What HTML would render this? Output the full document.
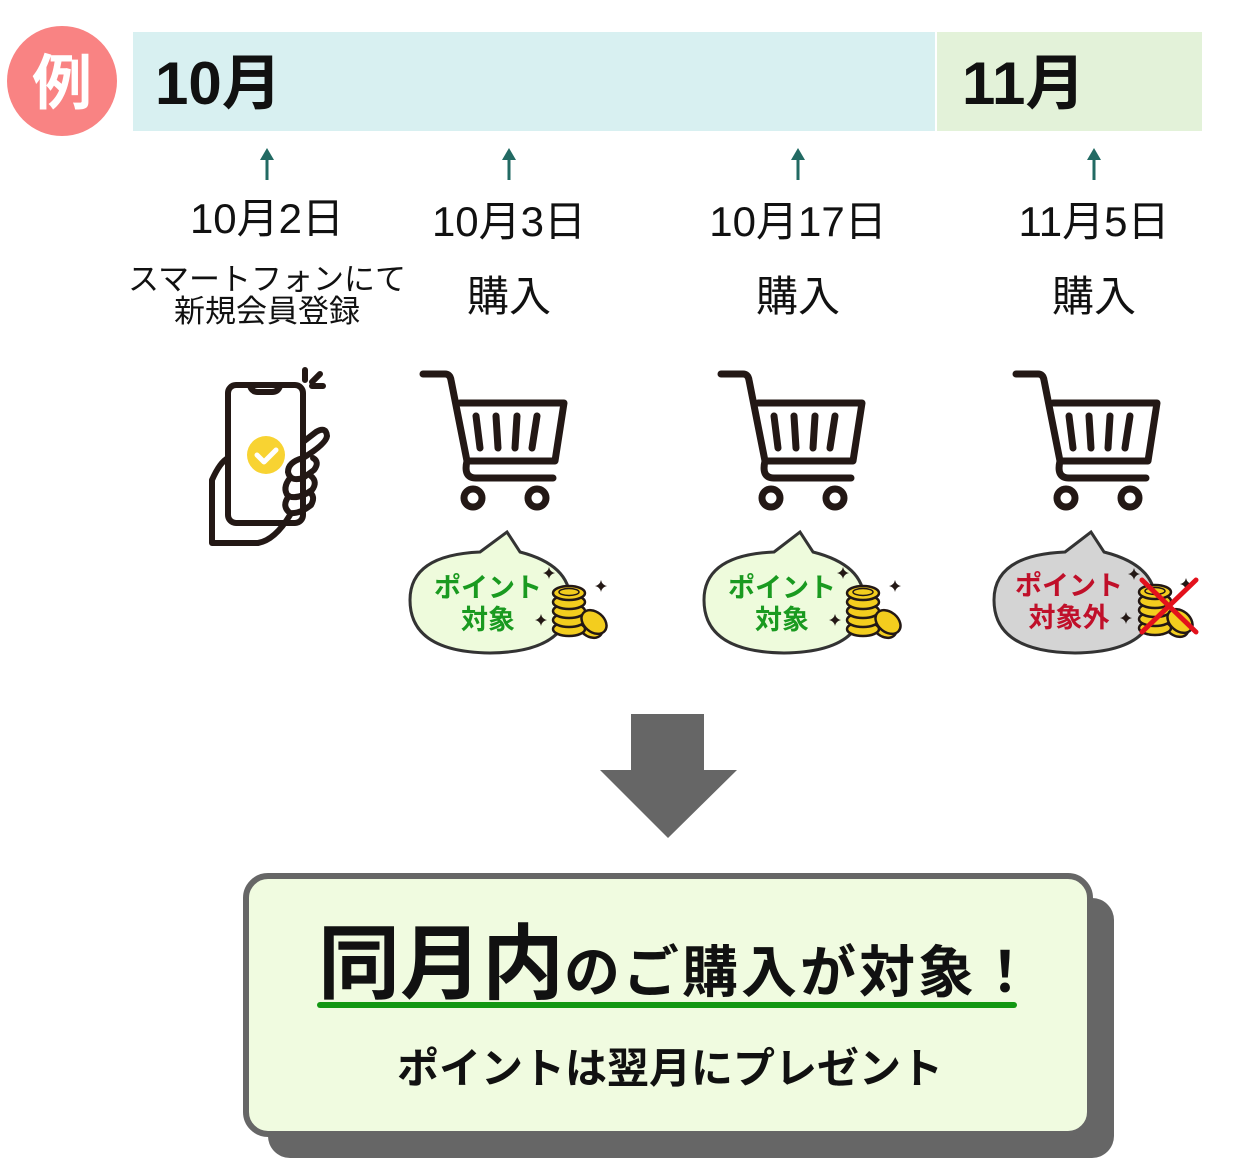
<!DOCTYPE html>
<html><head><meta charset="utf-8"><style>
html,body{margin:0;padding:0;background:#fff;}
svg{display:block;}
text{font-family:"Liberation Sans","Noto Sans CJK JP",sans-serif;}
</style></head><body>
<svg width="1239" height="1160" viewBox="0 0 1239 1160" xmlns="http://www.w3.org/2000/svg">
<defs>
<g id="cart" fill="none" stroke="#231815" stroke-width="7" stroke-linecap="round" stroke-linejoin="round">
  <path d="M0 3 H22 Q27 3 28 9 L44 90 Q40 107 53 107 H130"/>
  <path d="M37 32 H141 L132 90 H44"/>
  <path d="M53 45 L57 77 M73 45 L75 77 M94 45 L92 77 M114 45 L109 77"/>
  <circle cx="50" cy="127" r="9"/>
  <circle cx="114" cy="127" r="9"/>
</g>
<g id="coins" stroke="#231815" stroke-width="2.5" fill="#f3cd1e">
  <ellipse cx="38" cy="46" rx="14" ry="10" transform="rotate(40 38 46)"/>
  <ellipse cx="17" cy="49" rx="16" ry="7"/>
  <ellipse cx="17" cy="40" rx="16" ry="7"/>
  <ellipse cx="17" cy="31" rx="16" ry="7"/>
  <ellipse cx="17" cy="22" rx="16" ry="7"/>
  <ellipse cx="17" cy="13" rx="16" ry="7"/>
  <ellipse cx="17" cy="12" rx="10" ry="3.5" fill="none" stroke-width="1.5"/>
  <ellipse cx="42" cy="42" rx="14" ry="10" transform="rotate(40 42 42)"/>
</g>
<path id="spark" d="M0 -6 Q1 -1 6 0 Q1 1 0 6 Q-1 1 -6 0 Q-1 -1 0 -6Z" fill="#231815"/>
</defs>

<circle cx="62" cy="81" r="55" fill="#f98383"/>
<text x="62" y="104" font-size="60" font-weight="bold" fill="#fff" text-anchor="middle">例</text>
<rect x="133" y="32" width="802" height="99" fill="#d8f0f1"/>
<rect x="937" y="32" width="265" height="99" fill="#e3f2d9"/>
<text x="155" y="104" font-size="60" font-weight="bold" fill="#111">10月</text>
<text x="962" y="104" font-size="60" font-weight="bold" fill="#111">11月</text>

<g fill="#226a63" stroke="#226a63" stroke-width="3">
  <line x1="267" y1="158" x2="267" y2="180"/><path d="M260 160 L267 148 L274 160Z" stroke="none"/>
  <line x1="509" y1="158" x2="509" y2="180"/><path d="M502 160 L509 148 L516 160Z" stroke="none"/>
  <line x1="798" y1="158" x2="798" y2="180"/><path d="M791 160 L798 148 L805 160Z" stroke="none"/>
  <line x1="1094" y1="158" x2="1094" y2="180"/><path d="M1087 160 L1094 148 L1101 160Z" stroke="none"/>
</g>
<g font-size="42" fill="#111" text-anchor="middle">
  <text x="267" y="233">10月2日</text>
  <text x="509" y="236">10月3日</text>
  <text x="798" y="236">10月17日</text>
  <text x="1094" y="236">11月5日</text>
  <text x="509" y="311">購入</text>
  <text x="798" y="311">購入</text>
  <text x="1094" y="311">購入</text>
</g>
<text x="267" y="290" font-size="31" fill="#111" text-anchor="middle">スマートフォンにて</text>
<text x="267" y="322" font-size="31" fill="#111" text-anchor="middle">新規会員登録</text>

<g fill="none" stroke="#231815" stroke-width="6" stroke-linecap="round" stroke-linejoin="round">
  <rect x="228" y="385" width="75" height="138" rx="8"/>
  <path d="M250 386 Q252 392 258 392 H272 Q278 392 280 386"/>
  <path d="M305 370 V380 M312 382 L320 374 M312 386 H323"/>
  <path d="M228 458 Q220 462 212 480 V543 H258 Q275 540 290 515"/>
  <path d="M303 442 L316 432 Q326 426 327 436 Q326 444 303 458"/>
  <path d="M303 458 Q288 462 288 472 Q290 482 303 478 L314 470 Q320 462 313 458"/>
  <path d="M290 478 Q282 488 288 496 Q298 500 312 490 Q318 482 311 476"/>
  <path d="M289 496 Q281 506 290 513 Q300 514 311 505 Q316 496 309 492"/>
</g>
<circle cx="266" cy="455" r="19" fill="#f8d332"/>
<path d="M257 455 L264 462 L276 450" fill="none" stroke="#fff" stroke-width="5" stroke-linecap="round" stroke-linejoin="round"/>

<use href="#cart" x="423" y="371"/>
<use href="#cart" x="721" y="371"/>
<use href="#cart" x="1016" y="371"/>

<g stroke="#333" stroke-width="3">
  <path d="M480 552 L507 532 L520 552 Q570 565 570 600 Q570 652 490 653 Q410 652 410 600 Q410 555 480 552Z" fill="#eefbdc"/>
  <path d="M774 552 L800 532 L813 552 Q864 565 864 600 Q864 652 784 653 Q704 652 704 600 Q704 555 774 552Z" fill="#eefbdc"/>
  <path d="M1065 552 L1091 532 L1104 552 Q1155 565 1155 600 Q1155 652 1075 653 Q994 652 994 600 Q994 555 1065 552Z" fill="#d4d4d4"/>
</g>
<g font-size="27" font-weight="bold" text-anchor="middle">
  <text x="488" y="597" fill="#1a9a20">ポイント</text>
  <text x="488" y="629" fill="#1a9a20">対象</text>
  <text x="782" y="597" fill="#1a9a20">ポイント</text>
  <text x="782" y="629" fill="#1a9a20">対象</text>
  <text x="1069" y="595" fill="#c0102a">ポイント</text>
  <text x="1069" y="627" fill="#c0102a">対象外</text>
</g>
<use href="#coins" x="552" y="580"/>
<use href="#coins" x="846" y="580"/>
<use href="#coins" x="1138" y="579"/>
<use href="#spark" x="549" y="573"/><use href="#spark" x="601" y="586"/><use href="#spark" x="541" y="620"/>
<use href="#spark" x="843" y="573"/><use href="#spark" x="895" y="586"/><use href="#spark" x="835" y="620"/>
<use href="#spark" x="1134" y="574"/><use href="#spark" x="1186" y="584"/><use href="#spark" x="1126" y="618"/>
<path d="M1142 580 L1196 632 M1196 580 L1142 632" stroke="#e3111c" stroke-width="5" stroke-linecap="round"/>

<path d="M631 714 H704 V770 H737 L668 838 L600 770 H631Z" fill="#666"/>

<rect x="268" y="898" width="846" height="260" rx="22" fill="#666"/>
<rect x="246" y="876" width="844" height="258" rx="22" fill="#f0fbe0" stroke="#666" stroke-width="6"/>
<text x="318" y="992" font-size="82" font-weight="bold" fill="#111">同月内<tspan font-size="56" letter-spacing="3">のご購入が対象！</tspan></text>
<line x1="320" y1="1005" x2="1014" y2="1005" stroke="#129812" stroke-width="6" stroke-linecap="round"/>
<text x="670" y="1083" font-size="42" font-weight="bold" fill="#111" text-anchor="middle">ポイントは翌月にプレゼント</text>
</svg>
</body></html>
